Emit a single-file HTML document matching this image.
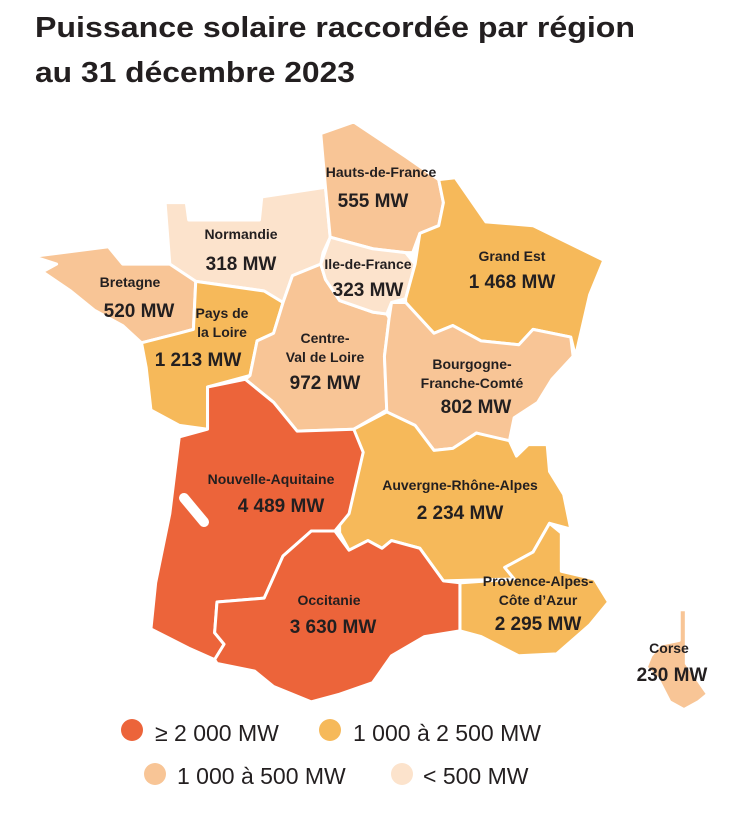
<!DOCTYPE html>
<html><head><meta charset="utf-8"><style>
html,body{margin:0;padding:0;background:#fff;}
svg{display:block;}
</style></head><body>
<svg width="735" height="825" viewBox="0 0 735 825" xmlns="http://www.w3.org/2000/svg" font-family="'Liberation Sans', sans-serif">
<rect width="735" height="825" fill="#fff"/>
<text x="35" y="37" font-size="29" font-weight="bold" fill="#231f20" textLength="600" lengthAdjust="spacingAndGlyphs">Puissance solaire raccordée par région</text>
<text x="35" y="82" font-size="29" font-weight="bold" fill="#231f20" textLength="320" lengthAdjust="spacingAndGlyphs">au 31 décembre 2023</text>
<g transform="translate(0,110.5) scale(0.4717,0.384)" stroke="#fff" stroke-width="3" stroke-linejoin="round">
<g vector-effect="non-scaling-stroke">
<polygon vector-effect="non-scaling-stroke" fill="#fce3cc" points="350,240 395,240 400,285 550,285 555,225 690,200 700,330 685,370 680,400 620,430 600,500 560,470 415,445 360,400"/>
<polygon vector-effect="non-scaling-stroke" fill="#f8c596" points="70,380 230,355 260,400 360,400 415,445 410,570 380,580 300,605 260,560 200,520 150,470 90,420 120,400"/>
<polygon vector-effect="non-scaling-stroke" fill="#f6b95a" points="415,445 560,470 600,500 580,580 545,600 530,690 440,720 440,830 380,820 320,780 310,670 300,605 380,580 410,570"/>
<polygon vector-effect="non-scaling-stroke" fill="#f8c596" points="600,500 620,430 680,400 690,440 720,495 790,525 820,530 825,540 815,640 820,780 750,830 630,835 580,760 520,700 530,690 545,600 580,580"/>
<polygon vector-effect="non-scaling-stroke" fill="#f8c596" points="680,60 750,30 860,120 930,180 940,240 930,300 890,320 875,370 860,370 790,360 700,330 690,200"/>
<polygon vector-effect="non-scaling-stroke" fill="#fce3cc" points="700,330 790,360 860,370 880,400 860,490 830,500 820,530 790,525 720,495 690,440 680,400"/>
<polygon vector-effect="non-scaling-stroke" fill="#f6b95a" points="930,180 965,175 1030,290 1130,300 1280,390 1250,480 1220,640 1210,590 1130,570 1100,610 1020,600 960,560 920,580 860,500 860,490 880,400 890,320 930,300 940,240"/>
<polygon vector-effect="non-scaling-stroke" fill="#f8c596" points="860,500 920,580 960,560 1020,600 1100,610 1130,570 1210,590 1215,640 1170,700 1140,760 1090,800 1080,860 1040,850 1010,840 960,880 920,885 880,820 820,785 815,640 825,540 830,500"/>
<polygon vector-effect="non-scaling-stroke" fill="#f6b95a" points="750,830 820,785 880,820 920,885 960,880 1010,840 1080,860 1095,900 1120,870 1160,870 1165,940 1195,1000 1210,1090 1165,1075 1130,1150 1070,1190 1090,1220 940,1225 890,1140 830,1120 810,1140 780,1120 740,1145 720,1100 720,1080 760,890"/>
<polygon vector-effect="non-scaling-stroke" fill="#f6b95a" points="1165,1075 1190,1100 1190,1200 1260,1220 1290,1280 1250,1340 1180,1415 1100,1420 1020,1370 975,1355 975,1230 1090,1220 1070,1190 1130,1150"/>
<polygon vector-effect="non-scaling-stroke" fill="#ec643a" points="440,720 520,700 580,760 630,835 750,830 770,890 740,1050 720,1080 710,1095 660,1095 600,1160 560,1270 460,1280 455,1360 475,1390 455,1430 400,1400 320,1350 330,1230 360,1050 380,850 440,830"/>
<polygon vector-effect="non-scaling-stroke" fill="#ec643a" points="660,1095 710,1095 740,1145 780,1120 810,1140 830,1120 890,1140 940,1225 975,1230 975,1355 900,1370 830,1420 790,1490 720,1520 660,1540 580,1500 540,1460 460,1440 455,1430 475,1390 455,1360 460,1280 560,1270 600,1160"/>
<polygon vector-effect="non-scaling-stroke" fill="#f8c596" points="1440,1300 1455,1300 1455,1440 1500,1520 1480,1540 1450,1560 1420,1540 1395,1480 1370,1450 1380,1420 1400,1390 1440,1380"/>
</g>
</g>
<line x1="184" y1="498" x2="204" y2="522" stroke="#fff" stroke-width="10" stroke-linecap="round"/>
<g font-weight="bold" fill="#231f20" text-anchor="middle">
<g font-size="14">
<text x="381" y="177">Hauts-de-France</text>
<text x="241" y="239">Normandie</text>
<text x="130" y="287">Bretagne</text>
<text x="222" y="318">Pays de</text>
<text x="222" y="337">la Loire</text>
<text x="368" y="269">Ile-de-France</text>
<text x="512" y="261">Grand Est</text>
<text x="325" y="343">Centre-</text>
<text x="325" y="362">Val de Loire</text>
<text x="472" y="369">Bourgogne-</text>
<text x="472" y="388">Franche-Comté</text>
<text x="271" y="484">Nouvelle-Aquitaine</text>
<text x="460" y="490">Auvergne-Rhône-Alpes</text>
<text x="329" y="605">Occitanie</text>
<text x="538" y="586">Provence-Alpes-</text>
<text x="538" y="605">Côte d’Azur</text>
<text x="669" y="653">Corse</text>
</g>
<g font-size="19">
<text x="373" y="207">555 MW</text>
<text x="241" y="270">318 MW</text>
<text x="139" y="317">520 MW</text>
<text x="198" y="366">1 213 MW</text>
<text x="368" y="296">323 MW</text>
<text x="512" y="288">1 468 MW</text>
<text x="325" y="389">972 MW</text>
<text x="476" y="413">802 MW</text>
<text x="281" y="512">4 489 MW</text>
<text x="460" y="519">2 234 MW</text>
<text x="333" y="633">3 630 MW</text>
<text x="538" y="630">2 295 MW</text>
<text x="672" y="681">230 MW</text>
</g>
</g>
<g font-size="23" fill="#231f20">
<circle cx="132" cy="730" r="11" fill="#ec643a"/>
<text x="155" y="741">≥ 2 000 MW</text>
<circle cx="330" cy="730" r="11" fill="#f6b95a"/>
<text x="353" y="741">1 000 à 2 500 MW</text>
<circle cx="155" cy="774" r="11" fill="#f8c596"/>
<text x="177" y="784">1 000 à 500 MW</text>
<circle cx="402" cy="774" r="11" fill="#fce3cc"/>
<text x="423" y="784">&lt; 500 MW</text>
</g>
</svg>
</body></html>
